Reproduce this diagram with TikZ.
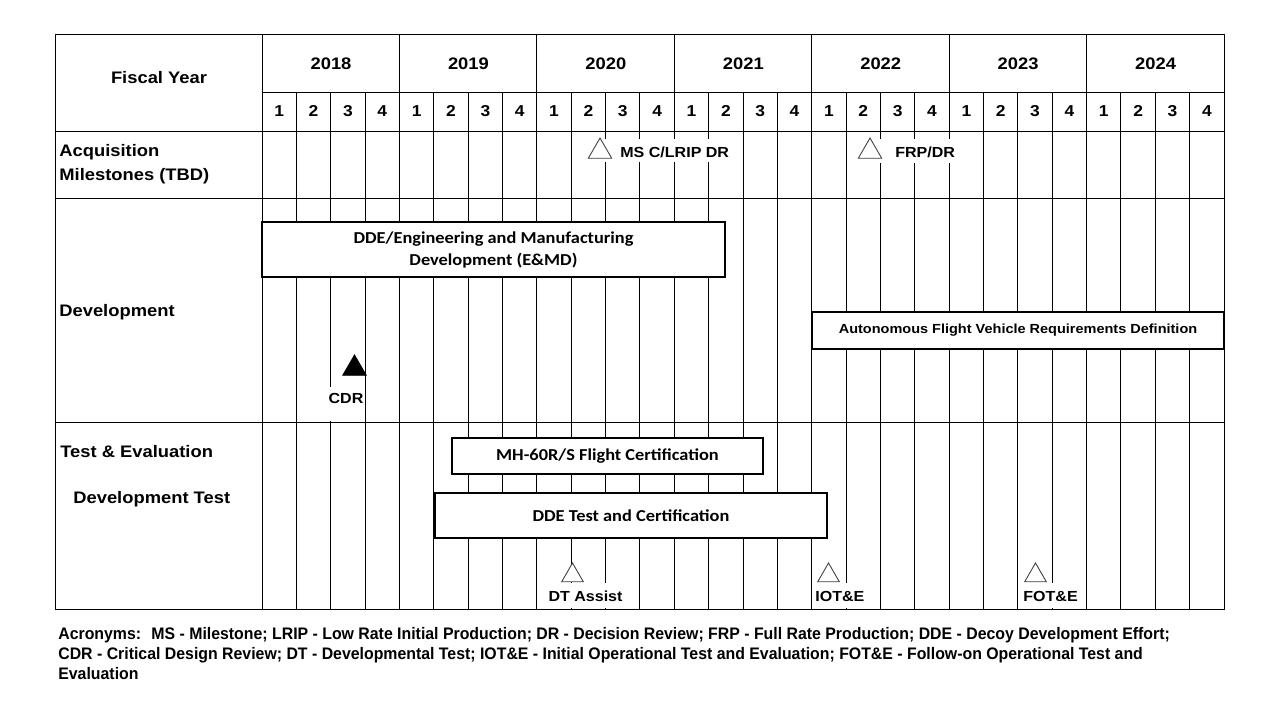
\documentclass[tikz,border=0pt]{standalone}
\usepackage{fontspec}
\setmainfont{Liberation Sans}[FakeStretch=1.1]
\newfontfamily\boxfont{Carlito}[FakeStretch=1.1]
\newfontfamily\acrfont{Liberation Sans}[FakeStretch=0.95]
\usetikzlibrary{shapes.geometric}

\tikzset{
  gridline/.style={line width=0.55pt},
  yearlabel/.style={font=\bfseries\fontsize{9.5}{11}\selectfont, anchor=base, inner sep=0pt},
  qlabel/.style={font=\bfseries\fontsize{9}{11}\selectfont, anchor=base, inner sep=0pt},
  rowlabel/.style={font=\bfseries\fontsize{9.5}{13.6}\selectfont, align=left, inner sep=0pt},
  taskbox/.style={draw, line width=1.1pt, fill=white, inner sep=0pt, align=center,
    font=\boxfont\bfseries\fontsize{9.5}{12.5}\selectfont},
  openmark/.style={regular polygon, regular polygon sides=3, draw=black!75, line width=0.5pt,
    fill=white, inner sep=0pt, minimum size=0.54cm},
  eventlabel/.style={font=\bfseries\fontsize{8.3}{10}\selectfont, inner sep=0pt},
}

\begin{document}
\begin{tikzpicture}[x=0.02cm, y=-0.02cm]
    \useasboundingbox (0,0) rectangle (1280,720);

    % table frame and rows
    \draw[gridline] (55,34) rectangle (1224,609);
    \draw[gridline] (262,34) -- (262,609);
    \draw[gridline] (262,92) -- (1224,92);
    \foreach \yy in {131, 198, 422}
        \draw[gridline] (55,\yy) -- (1224,\yy);

    % years and quarters
    \foreach \i in {1,...,6}
        \draw[gridline] ({262+137.43*\i},34) -- ({262+137.43*\i},609);
    \foreach \i in {0,...,6}
        \foreach \j in {1,2,3}
            \draw[gridline] ({262+137.43*\i+34.36*\j},92) -- ({262+137.43*\i+34.36*\j},609);

    \node[yearlabel] (fy) at (159,83) {Fiscal Year};
    \foreach \yr [count=\i from 0] in {2018,...,2024}
        \node[yearlabel] (y\yr) at ({331+137.43*\i},69) {\yr};
    \foreach \i in {0,...,6}
        \foreach \q in {1,2,3,4}
            \node[qlabel] (q\i\q) at ({262+137.43*\i+34.36*(\q-0.5)},116) {\q};

    % row headings
    \node[rowlabel, anchor=north west] (acq) at (59,144) {Acquisition\\Milestones (TBD)};
    \node[rowlabel, anchor=base west] (dev) at (59,316) {Development};
    \node[rowlabel, anchor=base west] (te) at (60,457) {Test \& Evaluation};
    \node[rowlabel, anchor=base west] (dt) at (73,503) {Development Test};

    % blank areas behind the milestone texts
    \fill[white] (585,139) rectangle (730,162);
    \fill[white] (855,139) rectangle (957,163);
    \fill[white] (328,387) rectangle (365,420.8);
    \fill[white] (545,583) rectangle (625,608);
    \fill[white] (814,583) rectangle (866,608);
    \fill[white] (1020,583) rectangle (1078,608);

    % bars
    \node[taskbox, minimum width=9.26cm, minimum height=1.10cm] (emd) at (493.5,249.5)
        {DDE/Engineering and Manufacturing\\Development (E\&MD)};
    \node[taskbox, minimum width=8.24cm, minimum height=0.74cm,
          font=\bfseries\fontsize{7.5}{9}\selectfont] (afv) at (1018,330.5)
        {Autonomous Flight Vehicle Requirements Definition};
    \node[taskbox, minimum width=6.22cm, minimum height=0.72cm] (mh60) at (607.5,456)
        {MH-60R/S Flight Certification};
    \node[taskbox, minimum width=7.84cm, minimum height=0.90cm] (ddetest) at (631,515.5)
        {DDE Test and Certification};

    % milestones
    \node[openmark] (msc) at (600,151.5) {};
    \node[eventlabel, anchor=west] (msclbl) at (620,152) {MS C/LRIP DR};
    \node[openmark] (frp) at (870,151.5) {};
    \node[eventlabel, anchor=west] (frplbl) at (895,152) {FRP/DR};
    \node[openmark, fill=black, draw=black] (cdr) at (354.5,368.5) {};
    \node[eventlabel] (cdrlbl) at (346,398) {CDR};
    \node[openmark, minimum size=0.5cm] (dta) at (572.5,575.5) {};
    \node[eventlabel] (dtalbl) at (585.5,596) {DT Assist};
    \node[openmark, minimum size=0.5cm] (iot) at (828.5,575.5) {};
    \node[eventlabel, anchor=west] (iotlbl) at (815,596) {IOT\&E};
    \node[openmark, minimum size=0.5cm] (fot) at (1035.5,575.5) {};
    \node[eventlabel, anchor=west] (fotlbl) at (1023,596) {FOT\&E};

    % acronyms
    \node[anchor=north west, align=left, inner sep=0pt,
          font=\acrfont\bfseries\fontsize{9.5}{11.34}\selectfont] (acro) at (58,627)
        {Acronyms:~ MS - Milestone; LRIP - Low Rate Initial Production; DR - Decision Review; FRP - Full Rate Production; DDE - Decoy Development Effort;\\
         CDR - Critical Design Review; DT - Developmental Test; IOT\&E - Initial Operational Test and Evaluation; FOT\&E - Follow-on Operational Test and\\
         Evaluation};
\end{tikzpicture}
\end{document}
